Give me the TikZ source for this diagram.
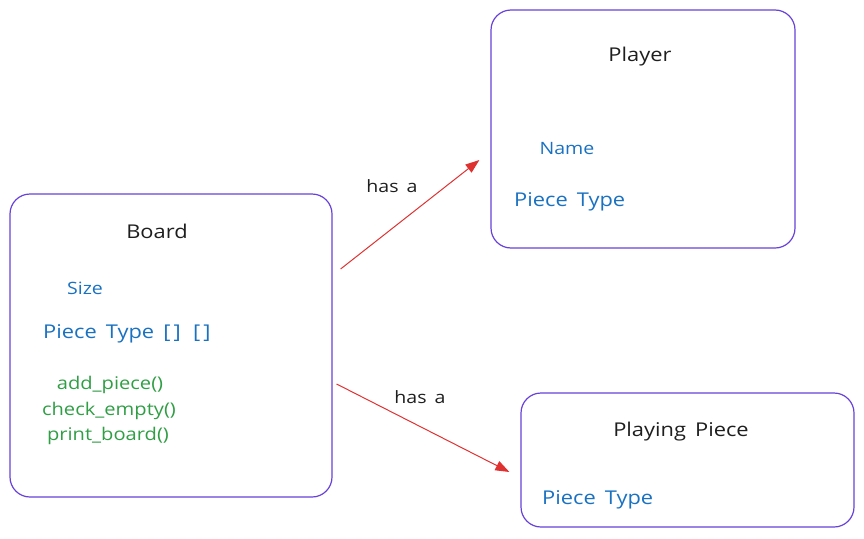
\documentclass[tikz,border=0pt]{standalone}
\usepackage{fontspec}
\setmainfont{Open Sans}[FakeStretch=1.15,WordSpace=1.6]
\usetikzlibrary{arrows.meta}
\definecolor{boxline}{HTML}{6741D9}
\definecolor{fieldblue}{HTML}{1971C2}
\definecolor{methgreen}{HTML}{2F9E44}
\definecolor{relred}{HTML}{E03131}
\definecolor{ink}{HTML}{1E1E1E}

\begin{document}
\begin{tikzpicture}[x=1pt,y=-1pt,
        cls/.style={draw=boxline,line width=1.2pt,rounded corners=20pt,inner sep=0pt},
        title/.style={text=ink,inner sep=0pt,font=\fontsize{19}{22}\selectfont},
        field/.style={text=fieldblue,inner sep=0pt,font=\fontsize{19}{22}\selectfont},
        small/.style={text=fieldblue,inner sep=0pt,font=\fontsize{17}{20}\selectfont},
        meth/.style={text=methgreen,inner sep=0pt,font=\fontsize{17.5}{20}\selectfont},
        rel/.style={text=ink,inner sep=0pt,font=\fontsize{17}{20}\selectfont},
        hasa/.style={draw=relred,line width=1pt,-{Triangle[length=14pt,width=10pt]}}]
        \useasboundingbox (0,0) rectangle (864,538);
        % classes
        \node[cls,minimum width=322pt,minimum height=303pt](board)at(171,345.5){};
        \node[cls,minimum width=304pt,minimum height=238pt](player)at(643,129){};
        \node[cls,minimum width=333pt,minimum height=134pt](piece)at(687.5,460){};
        % board
        \node[title](boardT)at(157,231){Board};
        \node[small](boardS)at(85,288){Size};
        \node[field,anchor=west](boardP)at(43,334){Piece Type [\,]\, [\,]};
        \node[meth](boardM1)at(110,385){add\_piece()};
        \node[meth](boardM2)at(109,411){check\_empty()};
        \node[meth](boardM3)at(108,436){print\_board()};
        % player
        \node[title](playerT)at(640,57){Player};
        \node[small](playerN)at(567,149){Name};
        \node[field,anchor=west](playerP)at(514,202){Piece Type};
        % playing piece
        \node[title](pieceT)at(681,432){Playing Piece};
        \node[field,anchor=west](pieceP)at(542,500){Piece Type};
        % relations
        \draw[hasa]([xshift=8pt,yshift=76.5pt]board.east)--([xshift=-11pt,yshift=-31pt]player.west);
        \draw[hasa]([xshift=4pt,yshift=-38.5pt]board.east)--([xshift=-11pt,yshift=-12pt]piece.west);
        \node[rel](rel1)at(392,186){has a};
        \node[rel](rel2)at(420,397){has a};
    \end{tikzpicture}
\end{document}
